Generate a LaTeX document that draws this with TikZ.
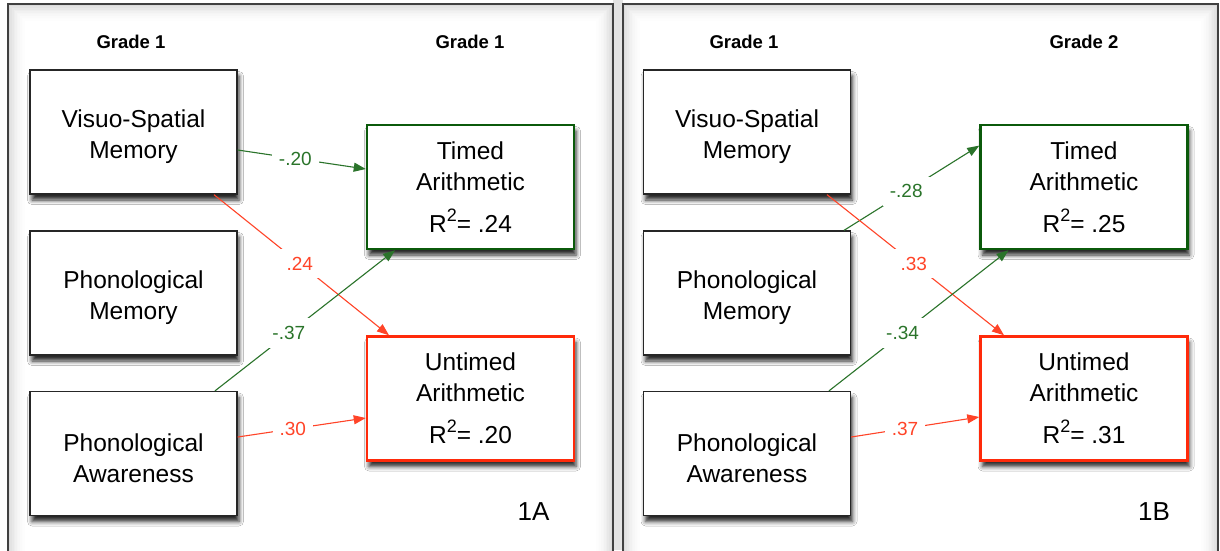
\documentclass[tikz,border=0pt]{standalone}
\usepackage{fontspec}
\setmainfont{Liberation Sans}
\usetikzlibrary{arrows.meta,calc,shadows.blur}
\definecolor{dkgreen}{HTML}{0B5A0B}
\definecolor{lngreen}{HTML}{2A732A}
\definecolor{txgreen}{HTML}{2A742A}
\definecolor{rd}{HTML}{FF2A0A}
\definecolor{lnred}{HTML}{FF4428}
\begin{document}
\begin{tikzpicture}[x=1pt,y=-1pt,
  box/.style={draw=black!85, line width=1.3pt, fill=white,
    minimum width=207pt, minimum height=124pt, align=center,
    font=\fontsize{24.5}{31}\selectfont, inner sep=0pt,
    blur shadow={shadow xshift=2pt, shadow yshift=-6pt, shadow blur radius=4.5pt, shadow opacity=85}},
  gbox/.style={box, draw=dkgreen, line width=2.5pt},
  rbox/.style={box, draw=rd, line width=2.5pt},
  grade/.style={font=\fontsize{18.5}{20}\selectfont\bfseries, inner sep=0pt},
  panel/.style={font=\fontsize{26}{28}\selectfont, inner sep=0pt},
  garrow/.style={draw=lngreen, line width=1.1pt, -{Triangle[length=12pt,width=9pt]}},
  rarrow/.style={draw=lnred, line width=1.1pt, -{Triangle[length=12pt,width=9pt]}},
  lbl/.style={font=\fontsize{19}{19}\selectfont, fill=white, inner xsep=7pt, inner ysep=3pt},
  lblg/.style={lbl, text=txgreen},
  lblr/.style={lbl, text=lnred},
  lblgd/.style={lblg, inner ysep=8pt},
  lblrd/.style={lblr, inner ysep=8pt}]
\useasboundingbox (0,0) rectangle (1220,550);
% frames
\begin{scope}
\clip (0,0) rectangle (1220,550);
\fill[black!11] (613,0) rectangle (623,550);
\foreach \L/\R in {8/613, 623/1218} {
  \fill[white] (\L,4) rectangle (\R,560);
  \foreach \k/\c in {1/14,2/11,3/9,4/7,5/5.5,6/4,7/3,8/2,9/1.2,10/0.6} {
    \draw[black!\c, line width=1.7pt] (\L+1.6*\k,600) -- (\L+1.6*\k,4+1.6*\k) -- (\R-1.6*\k,4+1.6*\k) -- (\R-1.6*\k,600);
  }
  \draw[black!75, line width=1.3pt] (\L,600) -- (\L,4) -- (\R,4) -- (\R,600);
}
\end{scope}
% ---------------- Panel A ----------------
\node[grade] (gA1) at (131,42) {Grade 1};
\node[grade] (gA2) at (470,42) {Grade 1};
\node[box] (vsmA) at (133.5,132) {\rule{0pt}{28pt}Visuo-Spatial\\Memory};
\node[box] (pmA) at (133.5,293) {\rule{0pt}{28pt}Phonological\\Memory};
\node[box] (paA) at (133.5,453.5) {\rule{0pt}{28pt}Phonological\\Awareness};
\node[gbox] (timedA) at (470.5,187) {Timed\\Arithmetic\\[11pt]R\raisebox{11pt}{\fontsize{18}{18}\selectfont 2}= .24};
\node[rbox] (untimedA) at (470.5,398.5) {Untimed\\Arithmetic\\[11pt]R\raisebox{11pt}{\fontsize{18}{18}\selectfont 2}= .20};
\node[panel] (tagA) at (533.5,512) {1A};
\draw[garrow] ($(vsmA.east)+(0,18)$) -- node[lblg,pos=0.45]{-.20} ($(timedA.west)+(0,-18)$);
\draw[rarrow] ($(vsmA.south)+(80.5,0)$) -- node[lblrd,pos=0.49]{.24} ($(untimedA.north)+(-81.5,0)$);
\draw[garrow] ($(paA.north)+(81.5,0)$) -- node[lblgd,pos=0.41]{-.37} ($(timedA.south)+(-75.5,0)$);
\draw[rarrow] ($(paA.east)+(0,-16.5)$) -- node[lblr,pos=0.43]{.30} ($(untimedA.west)+(0,19.5)$);
% ---------------- Panel B ----------------
\node[grade] (gB1) at (744,42) {Grade 1};
\node[grade] (gB2) at (1084,42) {Grade 2};
\node[box] (vsmB) at (747,132) {\rule{0pt}{28pt}Visuo-Spatial\\Memory};
\node[box] (pmB) at (747,293) {\rule{0pt}{28pt}Phonological\\Memory};
\node[box] (paB) at (747,453.5) {\rule{0pt}{28pt}Phonological\\Awareness};
\node[gbox] (timedB) at (1084,187) {Timed\\Arithmetic\\[11pt]R\raisebox{11pt}{\fontsize{18}{18}\selectfont 2}= .25};
\node[rbox] (untimedB) at (1084,398.5) {Untimed\\Arithmetic\\[11pt]R\raisebox{11pt}{\fontsize{18}{18}\selectfont 2}= .31};
\node[panel] (tagB) at (1154,512) {1B};
\draw[garrow] ($(pmB.north)+(97,0)$) -- node[lblgd,pos=0.46]{-.28} ($(timedB.west)+(0,-41.4)$);
\draw[rarrow] ($(vsmB.south)+(80,0)$) -- node[lblrd,pos=0.49]{.33} ($(untimedB.north)+(-80,0)$);
\draw[garrow] ($(paB.north)+(82,0)$) -- node[lblgd,pos=0.41]{-.34} ($(timedB.south)+(-75.5,0)$);
\draw[rarrow] ($(paB.east)+(0,-16.5)$) -- node[lblr,pos=0.42]{.37} ($(untimedB.west)+(0,18.5)$);
\end{tikzpicture}
\end{document}
